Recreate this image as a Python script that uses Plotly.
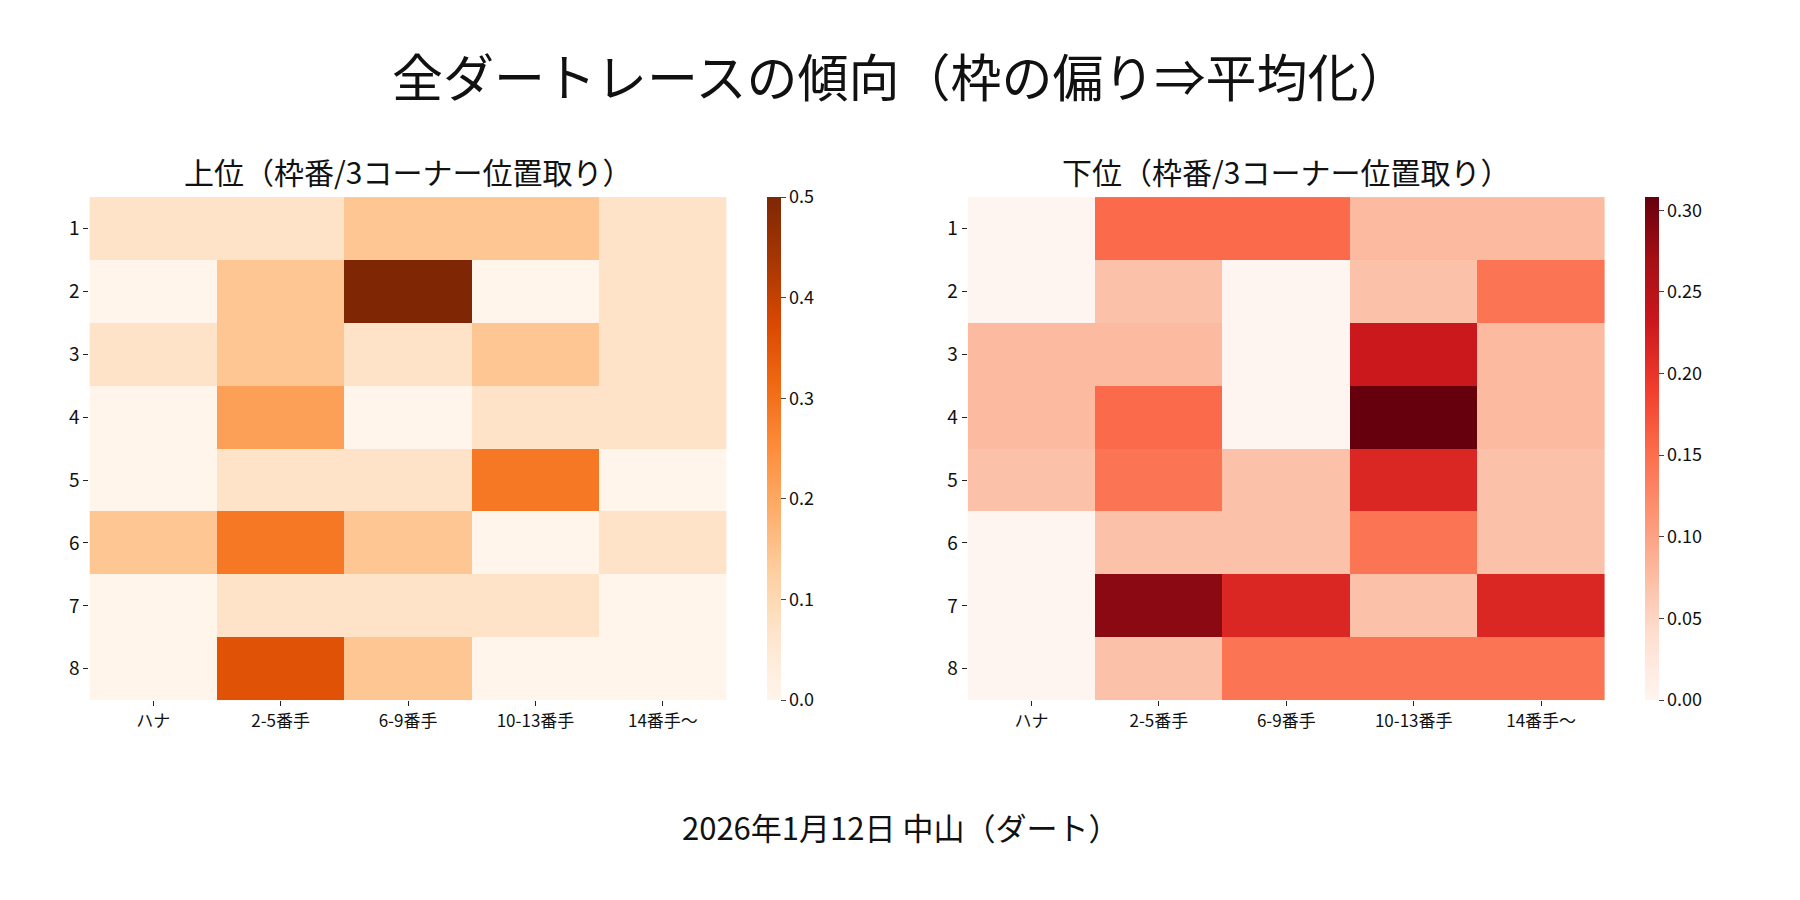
import plotly.graph_objects as go

# 枠番 (rows) x 3コーナー位置取り (columns)
frames = ['1', '2', '3', '4', '5', '6', '7', '8']
positions = ['ハナ', '2-5番手', '6-9番手', '10-13番手', '14番手〜']

# 上位 (top finishers) share per cell
top_vals = [
    [0.071, 0.071, 0.143, 0.143, 0.071],
    [0.000, 0.143, 0.500, 0.000, 0.071],
    [0.071, 0.143, 0.071, 0.143, 0.071],
    [0.000, 0.214, 0.000, 0.071, 0.071],
    [0.000, 0.071, 0.071, 0.286, 0.000],
    [0.143, 0.286, 0.143, 0.000, 0.071],
    [0.000, 0.071, 0.071, 0.071, 0.000],
    [0.000, 0.357, 0.143, 0.000, 0.000],
]

# 下位 (bottom finishers) share per cell
low_vals = [
    [0.000, 0.154, 0.154, 0.077, 0.077],
    [0.000, 0.071, 0.000, 0.071, 0.143],
    [0.077, 0.077, 0.000, 0.231, 0.077],
    [0.077, 0.154, 0.000, 0.308, 0.077],
    [0.071, 0.143, 0.071, 0.214, 0.071],
    [0.000, 0.071, 0.071, 0.143, 0.071],
    [0.000, 0.286, 0.214, 0.071, 0.214],
    [0.000, 0.071, 0.143, 0.143, 0.143],
]

top_ticks = [0.0, 0.1, 0.2, 0.3, 0.4, 0.5]
low_ticks = [0.0, 0.05, 0.10, 0.15, 0.20, 0.25, 0.30]

# matplotlib Oranges / Reds
oranges = ['#fff5eb', '#fee6ce', '#fdd0a2', '#fdae6b', '#fd8d3c',
           '#f16913', '#d94801', '#a63603', '#7f2704']
reds = ['#fff5f0', '#fee0d2', '#fcbba1', '#fc9272', '#fb6a4a',
        '#ef3b2c', '#cb181d', '#a50f15', '#67000d']


def to_scale(cols):
    n = len(cols) - 1
    return [[i / n, c] for i, c in enumerate(cols)]


FONT = 'Noto Sans CJK JP'
# page body adds an 8px margin, pull everything back by that much
DX = -8 / 1800
DY = 8 / 900
ydom = [0.222 + DY, 0.781 + DY]
cb_y = sum(ydom) / 2
cb_len = ydom[1] - ydom[0]

fig = go.Figure()

fig.add_trace(go.Heatmap(
    z=top_vals, x=positions, y=frames,
    colorscale=to_scale(oranges), zmin=0, zmax=0.5,
    xaxis='x', yaxis='y',
    colorbar=dict(x=0.426 + DX, xanchor='left', xpad=0, ypad=0,
                  y=cb_y, yanchor='middle', len=cb_len, lenmode='fraction',
                  thickness=14, outlinewidth=0, tickvals=top_ticks,
                  ticktext=[f'{t:.1f}' for t in top_ticks],
                  ticks='outside', ticklen=5, tickfont=dict(size=18)),
))

fig.add_trace(go.Heatmap(
    z=low_vals, x=positions, y=frames,
    colorscale=to_scale(reds), zmin=0, zmax=max(max(r) for r in low_vals),
    xaxis='x2', yaxis='y2',
    colorbar=dict(x=0.914 + DX, xanchor='left', xpad=0, ypad=0,
                  y=cb_y, yanchor='middle', len=cb_len, lenmode='fraction',
                  thickness=14, outlinewidth=0, tickvals=low_ticks,
                  ticktext=[f'{t:.2f}' for t in low_ticks],
                  ticks='outside', ticklen=5, tickfont=dict(size=18)),
))

axis_common = dict(showgrid=False, zeroline=False, showline=False,
                   ticks='outside', ticklen=5, tickcolor='#222')

fig.update_layout(
    width=1800, height=900,
    paper_bgcolor='white', plot_bgcolor='white',
    margin=dict(l=0, r=0, t=0, b=0),
    font=dict(family=FONT, color='#111'),
    xaxis=dict(domain=[0.0497 + DX, 0.4037 + DX], anchor='y',
               tickfont=dict(size=17), **axis_common),
    yaxis=dict(domain=ydom, anchor='x', autorange='reversed',
               tickfont=dict(size=19), **axis_common),
    xaxis2=dict(domain=[0.5376 + DX, 0.8916 + DX], anchor='y2',
                tickfont=dict(size=17), **axis_common),
    yaxis2=dict(domain=ydom, anchor='x2', autorange='reversed',
                tickfont=dict(size=19), **axis_common),
    annotations=[
        dict(text='全ダートレースの傾向（枠の偏り⇒平均化）', x=0.5 + DX, y=0.917 + DY,
             xref='paper', yref='paper', showarrow=False,
             font=dict(size=51), xanchor='center', yanchor='middle'),
        dict(text='上位（枠番/3コーナー位置取り）', x=0.2267 + DX, y=0.810 + DY,
             xref='paper', yref='paper', showarrow=False,
             font=dict(size=30), xanchor='center', yanchor='middle'),
        dict(text='下位（枠番/3コーナー位置取り）', x=0.7146 + DX, y=0.810 + DY,
             xref='paper', yref='paper', showarrow=False,
             font=dict(size=30), xanchor='center', yanchor='middle'),
        dict(text='2026年1月12日 中山（ダート）', x=0.5 + DX, y=0.082 + DY,
             xref='paper', yref='paper', showarrow=False,
             font=dict(size=31), xanchor='center', yanchor='middle'),
    ],
)

fig.write_html('out.html')
